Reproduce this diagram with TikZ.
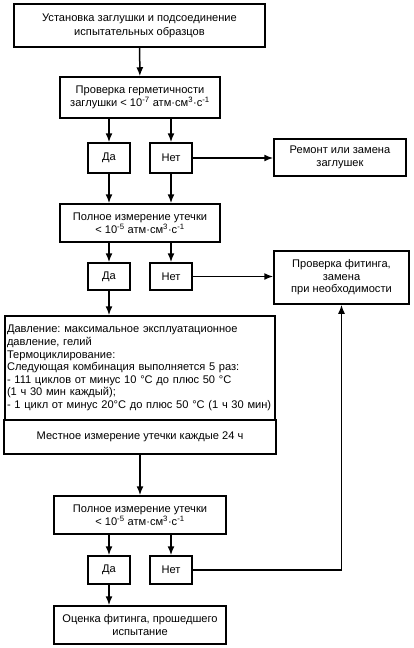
\documentclass[tikz,border=0pt]{standalone}
\usepackage{fontspec}
\setmainfont{Liberation Sans}
\usetikzlibrary{arrows.meta}
\newcommand{\flowunit}{атм·см\textsuperscript{3}·с\textsuperscript{-1}}
\begin{document}
\begin{tikzpicture}[x=1pt,y=-1pt,
    box/.style={draw, line width=1.5pt, align=center, inner sep=2pt,
        font=\fontsize{11.1}{12.6}\selectfont\frenchspacing},
    answer/.style={box, minimum width=42pt},
    arr/.style={line width=1.5pt, -{Latex[length=9pt,width=7pt]}}]

    \useasboundingbox (0,0) rectangle (413,648);

    \node [box, minimum width=251pt, minimum height=43pt] (mount) at (139.5,25.5)
        {Установка заглушки и подсоединение\\[1.5pt]испытательных образцов};

    \node [box, minimum width=160pt, minimum height=41pt] (plugtest) at (140,97.5)
        {Проверка герметичности\\заглушки < 10\textsuperscript{-7} \flowunit};
    \node [answer, minimum height=30pt] (yesA) at (109,158) {Да};
    \node [answer, minimum height=30pt] (noA) at (171,158) {Нет};
    \node [box, minimum width=132pt, minimum height=37pt] (repair) at (340,157.5)
        {Ремонт или замена\\заглушек};

    \node [box, minimum width=160pt, minimum height=38pt] (fullA) at (140,223)
        {Полное измерение утечки\\< 10\textsuperscript{-5} \flowunit};
    \node [answer, minimum height=27pt] (yesB) at (109,276.5) {Да};
    \node [answer, minimum height=27pt] (noB) at (171,276.5) {Нет};
    \node [box, minimum width=135pt, minimum height=53pt] (fitcheck) at (341.5,277.5)
        {Проверка фитинга,\\замена\\при необходимости};

    \node [box, align=left, text width=266pt, minimum height=104pt] (cycling) at (140,368)
        {Давление: максимальное эксплуатационное\\давление, гелий\\Термоциклирование:\\
         Следующая комбинация выполняется 5 раз:\\- 111 циклов от минус 10 °C до плюс 50 °C\\
         (1 ч 30 мин каждый);\\- 1 цикл от минус 20°C до плюс 50 °C (1 ч 30 мин)};
    \node [box, minimum width=272pt, minimum height=34pt] (local) at (140,437)
        {Местное измерение утечки каждые 24 ч};

    \node [box, minimum width=172pt, minimum height=38pt] (fullB) at (140,515)
        {Полное измерение утечки\\< 10\textsuperscript{-5} \flowunit};
    \node [answer, minimum height=28pt] (yesC) at (109,570) {Да};
    \node [answer, minimum height=28pt] (noC) at (171,570) {Нет};
    \node [box, minimum width=172pt, minimum height=38pt] (passed) at (140,625)
        {Оценка фитинга, прошедшего\\испытание};

    % first check
    \draw [arr] (mount) -- (plugtest);
    \draw [arr] (yesA |- plugtest.south) -- (yesA);
    \draw [arr] (noA |- plugtest.south) -- (noA);
    \draw [arr] (noA) -- (noA -| repair.west);
    \draw [arr] (yesA) -- (yesA |- fullA.north);
    \draw [arr] (noA) -- (noA |- fullA.north);

    % second check
    \draw [arr] (yesB |- fullA.south) -- (yesB);
    \draw [arr] (noB |- fullA.south) -- (noB);
    \draw [arr] (noB) -- (noB -| fitcheck.west);
    \draw [arr] (yesB) -- (yesB |- cycling.north);

    % after cycling
    \draw [arr] (local) -- (fullB);
    \draw [arr] (yesC |- fullB.south) -- (yesC);
    \draw [arr] (noC |- fullB.south) -- (noC);
    \draw [arr] (yesC) -- (yesC |- passed.north);
    \draw [arr] (noC) -| (fitcheck);

\end{tikzpicture}
\end{document}
